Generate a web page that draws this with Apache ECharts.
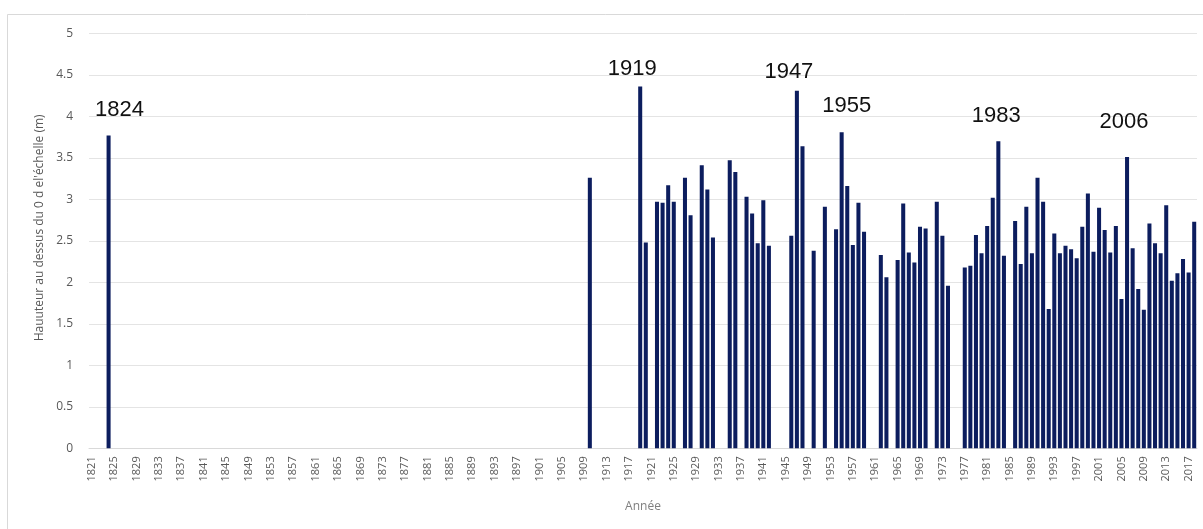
<!DOCTYPE html>
<html>
<head>
<meta charset="utf-8">
<script src="https://cdn.jsdelivr.net/npm/echarts@6/dist/echarts.min.js"></script>
<style>
  html, body { margin: 0; padding: 0; background: #ffffff; }
  #chart { width: 1203px; height: 529px; }
</style>
</head>
<body>
<div id="chart"></div>
<script>
// ---- Data ----
const firstYear = 1821;
const lastYear = 2018;
const floodYears = [1824, 1910, 1919, 1920, 1922, 1923, 1924, 1925, 1927, 1928, 1930, 1931, 1932,
  1935, 1936, 1938, 1939, 1940, 1941, 1942, 1946, 1947, 1948, 1950, 1952, 1954, 1955, 1956, 1957,
  1958, 1959, 1962, 1963, 1965, 1966, 1967, 1968, 1969, 1970, 1972, 1973, 1974, 1977, 1978, 1979,
  1980, 1981, 1982, 1983, 1984, 1986, 1987, 1988, 1989, 1990, 1991, 1992, 1993, 1994, 1995, 1996,
  1997, 1998, 1999, 2000, 2001, 2002, 2003, 2004, 2005, 2006, 2007, 2008, 2009, 2010, 2011, 2012,
  2013, 2014, 2015, 2016, 2017, 2018];
const floodHeights = [3.77, 3.26, 4.36, 2.48, 2.97, 2.96, 3.17, 2.97, 3.26, 2.81, 3.41, 3.12, 2.54,
  3.47, 3.33, 3.03, 2.83, 2.47, 2.99, 2.44, 2.56, 4.31, 3.64, 2.38, 2.91, 2.64, 3.81, 3.16, 2.45,
  2.96, 2.61, 2.33, 2.06, 2.27, 2.95, 2.36, 2.24, 2.67, 2.65, 2.97, 2.56, 1.96, 2.18, 2.20, 2.57,
  2.35, 2.68, 3.02, 3.70, 2.32, 2.74, 2.22, 2.91, 2.35, 3.26, 2.97, 1.68, 2.59, 2.35, 2.44, 2.40,
  2.29, 2.67, 3.07, 2.37, 2.90, 2.63, 2.36, 2.68, 1.80, 3.51, 2.41, 1.92, 1.67, 2.71, 2.47, 2.35,
  2.93, 2.02, 2.11, 2.28, 2.12, 2.73];
const annotatedYears = [1824, 1919, 1947, 1955, 1983, 2006];
const yTicks = [0, 0.5, 1, 1.5, 2, 2.5, 3, 3.5, 4, 4.5, 5];
const xAxisTitle = 'Année';
const yAxisTitle = "Hauuteur au dessus du 0 d el'échelle (m)";

// ---- Build category axis and series ----
const categories = [];
for (let y = firstYear; y <= lastYear; y++) categories.push(String(y));

// label offsets for annotations (style only)
const annotationOffsets = {
  1824: [11, -10], 1919: [-8, -1.5], 1947: [-8, -3], 1955: [5, -10], 1983: [-2, -9], 2006: [-3, -19]
};

const seriesData = categories.map(c => {
  const yr = Number(c);
  const idx = floodYears.indexOf(yr);
  if (idx < 0) return null;
  const v = floodHeights[idx];
  if (annotatedYears.indexOf(yr) >= 0) {
    return {
      value: v,
      label: {
        show: true,
        position: 'top',
        formatter: String(yr),
        offset: annotationOffsets[yr] || [0, 0]
      }
    };
  }
  return v;
});

const chart = echarts.init(document.getElementById('chart'), null, { renderer: 'canvas' });
const axisFont = "'Open Sans', 'Liberation Sans', sans-serif";

chart.setOption({
  animation: false,
  backgroundColor: '#ffffff',
  graphic: [{
    type: 'rect',
    silent: true,
    shape: { x: 7.5, y: 14.5, width: 1400, height: 700 },
    style: { fill: 'none', stroke: '#d9d9d9', lineWidth: 1 },
    z: -10
  }],
  grid: { left: 89, right: 6, top: 33.4, bottom: 80.7, containLabel: false },
  xAxis: {
    type: 'category',
    data: categories,
    name: xAxisTitle,
    nameLocation: 'middle',
    nameGap: 52,
    nameTextStyle: { color: '#7f7f7f', fontSize: 12, fontFamily: axisFont },
    axisLine: { show: true, lineStyle: { color: '#d9d9d9', width: 1 } },
    axisTick: { show: false },
    axisLabel: {
      interval: 3,
      rotate: 90,
      color: '#595959',
      fontSize: 11,
      fontFamily: axisFont,
      margin: 8
    },
    splitLine: { show: false }
  },
  yAxis: {
    type: 'value',
    min: yTicks[0],
    max: yTicks[yTicks.length - 1],
    interval: yTicks[1] - yTicks[0],
    name: yAxisTitle,
    nameLocation: 'middle',
    nameGap: 41,
    nameRotate: 90,
    nameTextStyle: { color: '#595959', fontSize: 12, fontFamily: axisFont, padding: [0, 0, 0, 26] },
    axisLine: { show: false },
    axisTick: { show: false },
    axisLabel: {
      color: '#595959',
      fontSize: 12,
      fontFamily: axisFont,
      margin: 16,
      formatter: v => String(v)
    },
    splitLine: { show: true, lineStyle: { color: '#e4e4e4', width: 1 } }
  },
  series: [{
    type: 'bar',
    data: seriesData,
    barCategoryGap: '28%',
    itemStyle: { color: '#0c1d5e' },
    label: {
      show: false,
      color: '#111111',
      fontSize: 22,
      fontFamily: "'Liberation Sans', Arial, sans-serif"
    }
  }]
});
</script>
</body>
</html>
